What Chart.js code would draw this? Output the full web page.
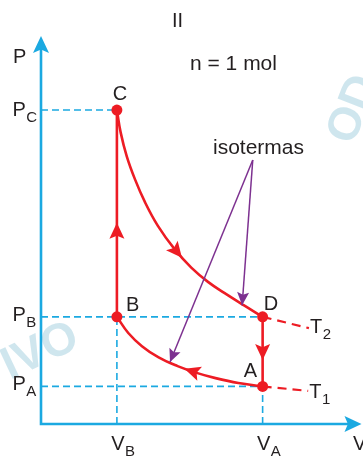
<!DOCTYPE html>
<html>
<head>
<meta charset="utf-8">
<script src="https://cdn.jsdelivr.net/npm/chart.js@4.4.1/dist/chart.umd.min.js"></script>
<style>
  body { margin: 0; background: #fff; }
  #wrap { width: 363px; height: 458px; position: relative; }
</style>
</head>
<body>
<div id="wrap"><canvas id="chart"></canvas></div>
<script>
// state values (V, P in arbitrary units, n = 1 mol)
const V_B = 1.0, V_A = 2.92;
const P_A = 1.0, P_B = 2.85, P_C = 8.35;

const stateNames = ['C', 'B', 'D', 'A'];
const stateV = [V_B, V_B, V_A, V_A];
const stateP = [P_C, P_B, P_B, P_A];

// isotherm T2 (C -> D)
const isoT2V = [1.0, 1.05, 1.13, 1.24, 1.37, 1.54, 1.76, 1.98, 2.2, 2.42, 2.67, 2.92];
const isoT2P = [8.35, 7.75, 7.12, 6.50, 5.90, 5.27, 4.65, 4.16, 3.78, 3.48, 3.16, 2.85];
// isotherm T1 (A -> B)
const isoT1V = [1.0, 1.15, 1.33, 1.55, 1.8, 2.05, 2.3, 2.6, 2.92];
const isoT1P = [2.85, 2.42, 2.07, 1.77, 1.54, 1.36, 1.22, 1.09, 1.0];
// dashed continuations
const extT2V = [2.92, 3.53], extT2P = [2.85, 2.55];
const extT1V = [2.92, 3.52], extT1P = [1.0, 0.88];

// arrows along the cycle: [tailV, tailP, tipV, tipP]
const cycleArrows = [
  [V_B, 4.6, V_B, 5.35],
  [1.70, 4.81, 1.857, 4.42],
  [V_A, 2.3, V_A, 1.70],
  [2.10, 1.33, 1.89, 1.47]
];
// "isotermas" pointers
const noteFrom = [2.79, 7.02];
const noteTips = [[2.65, 3.16], [1.70, 1.65]];

const RED = '#ed1c24', BLUE = '#1ba9e1', PURPLE = '#7d3190', INK = '#231f20';
const FONT = '"Liberation Sans", Arial, sans-serif';

const pts = (xs, ys) => xs.map((x, i) => ({ x, y: ys[i] }));
const seg = (x1, y1, x2, y2) => [{ x: x1, y: y1 }, { x: x2, y: y2 }];

const guide = data => ({ data, showLine: true, borderColor: BLUE, borderWidth: 1.6,
  borderDash: [7, 4], pointRadius: 0, order: 5 });
const red = (data, extra) => Object.assign({ data, showLine: true, borderColor: RED,
  borderWidth: 2.6, pointRadius: 0, order: 2 }, extra || {});

function head(ctx, x, y, ang, len, half, color) {
  ctx.save();
  ctx.translate(x, y);
  ctx.rotate(ang);
  ctx.beginPath();
  ctx.moveTo(0, 0);
  ctx.lineTo(-len, -half);
  ctx.lineTo(-len * 0.8, 0);
  ctx.lineTo(-len, half);
  ctx.closePath();
  ctx.fillStyle = color;
  ctx.fill();
  ctx.restore();
}

function sub(ctx, main, s, x, y, align) {
  ctx.font = '20px ' + FONT;
  const w = ctx.measureText(main).width;
  let x0 = x;
  if (align === 'center') x0 = x - w / 2;
  ctx.textAlign = 'left';
  ctx.fillText(main, x0, y);
  ctx.font = '15px ' + FONT;
  ctx.fillText(s, x0 + w + 0.5, y + 6);
}

const drawing = {
  id: 'drawing',
  beforeDatasetsDraw(chart) {
    const ctx = chart.ctx;
    // watermark
    ctx.save();
    ctx.fillStyle = 'rgba(160,205,222,0.5)';
    ctx.font = 'bold 46px ' + FONT;
    ctx.translate(10, 380);
    ctx.rotate(-0.44);
    ctx.fillText('IVO', 0, 0);
    ctx.restore();
    ctx.save();
    ctx.fillStyle = 'rgba(160,205,222,0.5)';
    ctx.font = 'bold 46px ' + FONT;
    ctx.translate(353, 146);
    ctx.rotate(-1.2);
    ctx.fillText('OD', 0, 0);
    ctx.restore();
  },
  afterDatasetsDraw(chart) {
    const ctx = chart.ctx;
    const xs = chart.scales.x, ys = chart.scales.y;
    const X = v => xs.getPixelForValue(v), Y = p => ys.getPixelForValue(p);
    const ox = X(0), oy = Y(0);

    // axes
    ctx.save();
    ctx.strokeStyle = BLUE;
    ctx.lineWidth = 2.6;
    ctx.beginPath();
    ctx.moveTo(ox, oy);
    ctx.lineTo(ox, chart.chartArea.top + 12);
    ctx.moveTo(ox - 1.3, oy);
    ctx.lineTo(chart.chartArea.right - 8, oy);
    ctx.stroke();
    head(ctx, ox, chart.chartArea.top, -Math.PI / 2, 17, 8, BLUE);
    head(ctx, chart.chartArea.right + 4, oy, 0, 17, 8, BLUE);

    // cycle arrows
    cycleArrows.forEach(a => {
      const x1 = X(a[0]), y1 = Y(a[1]), x2 = X(a[2]), y2 = Y(a[3]);
      head(ctx, x2, y2, Math.atan2(y2 - y1, x2 - x1), 16, 7.5, RED);
    });
    // note arrows
    noteTips.forEach(t => {
      const x1 = X(noteFrom[0]), y1 = Y(noteFrom[1]), x2 = X(t[0]), y2 = Y(t[1]);
      head(ctx, x2, y2, Math.atan2(y2 - y1, x2 - x1), 13, 6, PURPLE);
    });

    // texts
    ctx.fillStyle = INK;
    ctx.textBaseline = 'alphabetic';
    ctx.font = '20px ' + FONT;
    ctx.textAlign = 'left';
    ctx.fillText('II', 172, 27);
    ctx.fillText('P', 13, 63);
    ctx.fillText('V', 353, 450);
    ctx.font = '21px ' + FONT;
    ctx.fillText('n = 1 mol', 190, 70);
    ctx.fillText('isotermas', 213, 154);

    ctx.font = '20px ' + FONT;
    ctx.textAlign = 'center';
    ctx.fillText('C', X(V_B) + 3, Y(P_C) - 10);
    ctx.textAlign = 'left';
    ctx.fillText('B', X(V_B) + 9, Y(P_B) - 6);
    ctx.fillText('D', X(V_A) + 1, Y(P_B) - 7);
    ctx.fillText('A', X(V_A) - 19, Y(P_A) - 9);

    sub(ctx, 'P', 'C', 12.5, Y(P_C) + 6, 'left');
    sub(ctx, 'P', 'B', 12.5, Y(P_B) + 4, 'left');
    sub(ctx, 'P', 'A', 12.5, Y(P_A) + 4, 'left');
    sub(ctx, 'V', 'B', X(V_B) + 1, 450, 'center');
    sub(ctx, 'V', 'A', X(V_A) + 1, 450, 'center');
    sub(ctx, 'T', '2', X(extT2V[1]) + 1, Y(extT2P[1]) + 5, 'left');
    sub(ctx, 'T', '1', X(extT1V[1]) + 1, Y(extT1P[1]) + 7, 'left');
    ctx.restore();
  }
};

new Chart(document.getElementById('chart'), {
  type: 'scatter',
  data: {
    datasets: [
      { data: pts(stateV, stateP), pointRadius: 5.5, pointBackgroundColor: RED,
        pointBorderWidth: 0, showLine: false, order: 0 },
      red(pts(isoT2V, isoT2P), { tension: 0.4 }),
      red(pts(isoT1V, isoT1P), { tension: 0.4 }),
      red(pts(extT2V, extT2P), { borderDash: [9, 6], borderWidth: 2.2 }),
      red(pts(extT1V, extT1P), { borderDash: [9, 6], borderWidth: 2.2 }),
      red(seg(V_B, P_B, V_B, P_C)),
      red(seg(V_A, P_B, V_A, P_A)),
      { data: seg(noteFrom[0], noteFrom[1], noteTips[0][0], noteTips[0][1]), showLine: true,
        borderColor: PURPLE, borderWidth: 1.5, pointRadius: 0, order: 1 },
      { data: seg(noteFrom[0], noteFrom[1], noteTips[1][0], noteTips[1][1]), showLine: true,
        borderColor: PURPLE, borderWidth: 1.5, pointRadius: 0, order: 1 },
      guide(seg(0, P_C, V_B, P_C)),
      guide(seg(0, P_B, V_A, P_B)),
      guide(seg(0, P_A, V_A, P_A)),
      guide(seg(V_B, 0, V_B, P_B)),
      guide(seg(V_A, 0, V_A, P_A))
    ]
  },
  options: {
    responsive: true,
    maintainAspectRatio: false,
    animation: false,
    events: [],
    layout: { padding: { left: 41, right: 1, top: 36, bottom: 34 } },
    plugins: { legend: { display: false }, tooltip: { enabled: false } },
    scales: {
      x: { type: 'linear', min: 0, max: 4.17, display: false },
      y: { type: 'linear', min: 0, max: 10.32, display: false }
    }
  },
  plugins: [drawing]
});
</script>
</body>
</html>
